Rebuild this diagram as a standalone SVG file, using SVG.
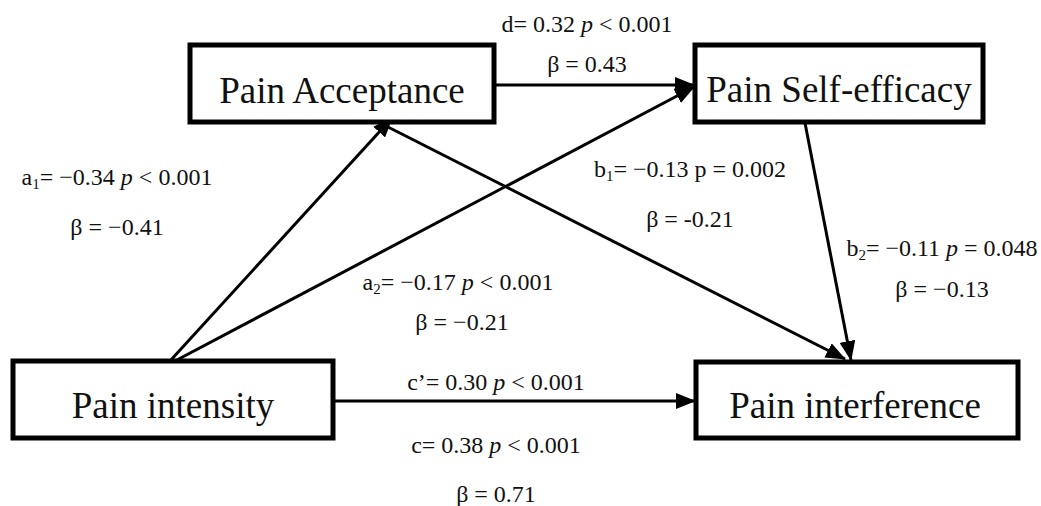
<svg xmlns="http://www.w3.org/2000/svg" width="1041" height="506" viewBox="0 0 1041 506">
<defs>
<marker id="ah" markerUnits="userSpaceOnUse" markerWidth="20" markerHeight="16" refX="19" refY="8" orient="auto">
<path d="M0,0 L20,8 L0,16 z" fill="#000"/>
</marker>
<style>
.box{fill:#fff;stroke:#000;stroke-width:5}
.nt{font-family:"Liberation Serif","Times New Roman",serif;font-size:37px;fill:#111;text-anchor:middle}
.lb{font-family:"Liberation Serif","Times New Roman",serif;font-size:24px;fill:#111;text-anchor:middle}
.cn{stroke:#000;stroke-width:3;fill:none;marker-end:url(#ah)}
.it{font-style:italic}
.sb{font-size:15px}
</style>
</defs>
<rect width="1041" height="506" fill="#fff"/>
<g id="connectors">
<line class="cn" x1="496" y1="85" x2="694" y2="85"/>
<line class="cn" x1="175" y1="361" x2="694" y2="87"/>
<line class="cn" x1="170" y1="361" x2="392" y2="118"/>
<line class="cn" x1="388" y1="127" x2="845" y2="359"/>
<line class="cn" x1="805" y1="123" x2="851" y2="360"/>
<line class="cn" x1="335" y1="401" x2="695" y2="401"/>
</g>
<g id="node-acceptance">
<rect class="box" x="190" y="45" width="304" height="77"/>
<text class="nt" x="342" y="103">Pain Acceptance</text>
</g>
<g id="node-selfefficacy">
<rect class="box" x="695" y="45" width="288" height="77"/>
<text class="nt" x="839" y="102">Pain Self-efficacy</text>
</g>
<g id="node-intensity">
<rect class="box" x="13" y="361" width="320" height="77"/>
<text class="nt" x="173" y="418">Pain intensity</text>
</g>
<g id="node-interference">
<rect class="box" x="696" y="362" width="322" height="76"/>
<text class="nt" x="855" y="418">Pain interference</text>
</g>
<g id="labels">
<text class="lb" x="587" y="32">d= 0.32 <tspan class="it">p</tspan> &lt; 0.001</text>
<text class="lb" x="587" y="72">β = 0.43</text>
<text class="lb" x="117" y="185">a<tspan class="sb" dy="4">1</tspan><tspan dy="-4">= −0.34 </tspan><tspan class="it">p</tspan> &lt; 0.001</text>
<text class="lb" x="117" y="235">β = −0.41</text>
<text class="lb" x="690" y="177">b<tspan class="sb" dy="4">1</tspan><tspan dy="-4">= −0.13 p = 0.002</tspan></text>
<text class="lb" x="690" y="227">β = -0.21</text>
<text class="lb" x="942" y="256">b<tspan class="sb" dy="4">2</tspan><tspan dy="-4">= −0.11 </tspan><tspan class="it">p</tspan> = 0.048</text>
<text class="lb" x="942" y="297">β = −0.13</text>
<text class="lb" x="458" y="290">a<tspan class="sb" dy="4">2</tspan><tspan dy="-4">= −0.17 </tspan><tspan class="it">p</tspan> &lt; 0.001</text>
<text class="lb" x="462" y="330">β = −0.21</text>
<text class="lb" x="496" y="390">c’= 0.30 <tspan class="it">p</tspan> &lt; 0.001</text>
<text class="lb" x="496" y="453">c= 0.38 <tspan class="it">p</tspan> &lt; 0.001</text>
<text class="lb" x="496" y="502">β = 0.71</text>
</g>
</svg>
